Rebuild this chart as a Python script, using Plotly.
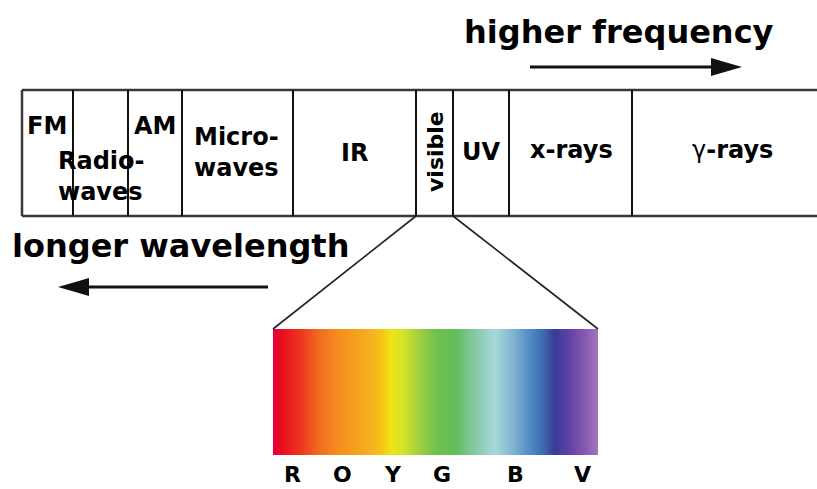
import numpy as np
import plotly.graph_objects as go

# ---- data -------------------------------------------------------------
band_labels = ["FM", "Radio-<br>waves", "AM", "Micro-<br>waves", "IR", "visible", "UV", "x-rays", "γ-rays"]
band_boundaries = [22, 73, 128, 182, 293, 416, 453, 509, 632, 817]
visible_band = ("visible", 416, 453)

colour_labels = ["R", "O", "Y", "G", "B", "V"]
colour_label_pos = [292, 342, 393, 442, 515, 582]

spectrum_stops = [0.0, 0.02, 0.09, 0.145, 0.215, 0.30, 0.34, 0.36, 0.40, 0.45, 0.505,
                  0.56, 0.62, 0.683, 0.745, 0.797, 0.837, 0.868, 0.908, 0.96, 1.0]
spectrum_colours = ["#e4003c", "#e80a20", "#ee3a1e", "#f07020", "#f4941e", "#f5b01e",
                    "#f5c818", "#f0e414", "#d4e42a", "#a0d040", "#70c050", "#62bc5a",
                    "#84c8a4", "#a8d8d8", "#7cb0d0", "#4c88c0", "#3c64ac", "#3a3a9a",
                    "#5c40a4", "#8458b0", "#a474bc"]

W, H = 817, 489
FONT = "DejaVu Sans"

fig = go.Figure()

# ---- spectrum gradient (heatmap) ---------------------------------------
sx0, sx1, sy0, sy1 = 273, 598, 329, 455
N = 325
xs = sx0 + (np.arange(N) + 0.5) * (sx1 - sx0) / N
z = [list(np.linspace(0, 1, N))]
fig.add_trace(go.Heatmap(
    x=xs, y0=(sy0 + sy1) / 2, dy=sy1 - sy0, z=z,
    colorscale=[[s, c] for s, c in zip(spectrum_stops, spectrum_colours)],
    showscale=False, hoverinfo="skip", zmin=0, zmax=1,
))

shapes = []
# outer box (open on the right)
top, bot = 90, 216
left = band_boundaries[0]
edge = dict(color="#3a3a3a", width=2.5)
shapes.append(dict(type="line", x0=left, x1=W + 5, y0=top, y1=top, line=edge))
shapes.append(dict(type="line", x0=left, x1=W + 5, y0=bot, y1=bot, line=edge))
shapes.append(dict(type="line", x0=left, x1=left, y0=top, y1=bot, line=edge))
for b in band_boundaries[1:-1]:
    shapes.append(dict(type="line", x0=b, x1=b, y0=top, y1=bot, line=dict(color="#111", width=2)))

# zoom lines from visible band to spectrum
_, v0, v1 = visible_band
shapes.append(dict(type="line", x0=v0, y0=bot, x1=sx0, y1=sy0, line=dict(color="#222", width=1.6)))
shapes.append(dict(type="line", x0=v1, y0=bot, x1=sx1, y1=sy0, line=dict(color="#222", width=1.6)))

# arrows
shapes.append(dict(type="line", x0=530, x1=714, y0=67, y1=67, line=dict(color="#111", width=3)))
shapes.append(dict(type="path", path="M 711 58 L 742 67 L 711 76 Z", fillcolor="#111", line=dict(width=0)))
shapes.append(dict(type="line", x0=268, x1=86, y0=287, y1=287, line=dict(color="#111", width=3)))
shapes.append(dict(type="path", path="M 89 278 L 58 287 L 89 296 Z", fillcolor="#111", line=dict(width=0)))

annotations = []
def txt(x, y, t, size=24, angle=0, xanchor="center", align="center"):
    annotations.append(dict(x=x, y=y, text=t, showarrow=False, textangle=angle,
                            xanchor=xanchor, yanchor="middle", align=align,
                            font=dict(family=FONT, size=size, color="#000", weight="bold")))

# band labels
txt(47, 126, "FM")
txt(56, 176, "Radio-<br>waves", xanchor="left", align="left")
txt(155, 126, "AM")
txt(236, 152, "Micro-<br>waves")
txt(354, 153, "IR")
txt(435, 152, "visible", size=22, angle=-90)
txt(481, 152, "UV")
txt(571, 150, "x-rays")
annotations.append(dict(x=732, y=150, text="γ<b>-rays</b>", showarrow=False,
                        font=dict(family=FONT, size=24, color="#000")))

# direction labels
txt(619, 32, "higher frequency", size=32)
txt(180, 246, "longer wavelength", size=32)

# colour letters
for lab, x in zip(colour_labels, colour_label_pos):
    txt(x, 474, lab, size=22)

fig.update_layout(
    width=W, height=H, margin=dict(l=0, r=0, t=0, b=0),
    paper_bgcolor="white", plot_bgcolor="white",
    xaxis=dict(range=[0, W], visible=False, fixedrange=True),
    yaxis=dict(range=[H, 0], visible=False, fixedrange=True),
    shapes=shapes, annotations=annotations, showlegend=False,
)
fig.write_html("out.html", config={"displayModeBar": False},
               post_script="document.body.style.margin='0';document.body.style.overflow='hidden';")
